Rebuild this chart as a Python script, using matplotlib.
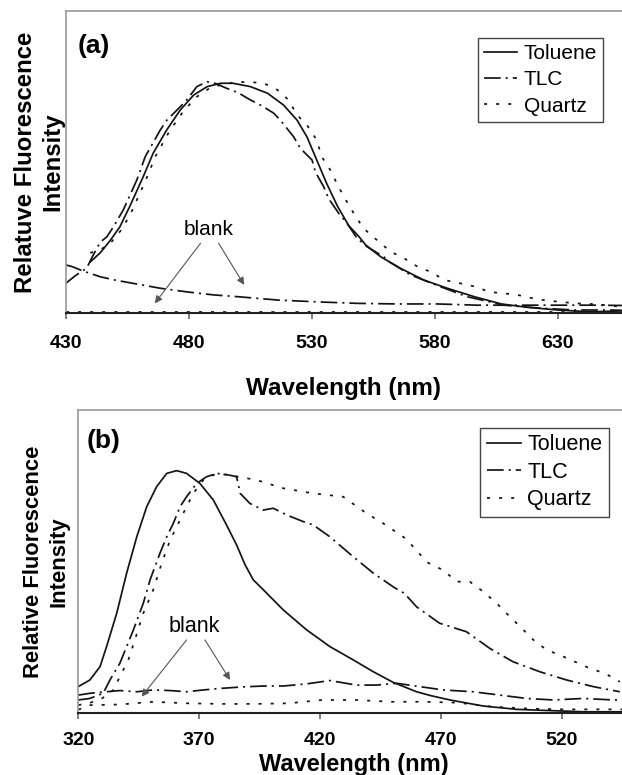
import matplotlib
matplotlib.use("Agg")
import matplotlib.pyplot as plt

plt.rcParams['font.family'] = ['Liberation Sans', 'DejaVu Sans']
plt.rcParams['lines.scale_dashes'] = False

# ---------------- Panel (a) data ----------------
a_tol_x = [440, 444, 448, 452, 456, 461.5, 465.5, 471, 476.5, 482, 487.5, 493, 498, 505, 512,
           518.5, 524, 528, 532, 536, 540.5, 545, 549, 552, 558, 566, 575.5, 585, 596, 607,
           617.5, 630, 643, 656]
a_tol_y = [0.17, 0.20, 0.24, 0.286, 0.353, 0.452, 0.529, 0.606, 0.672, 0.722, 0.750, 0.761,
           0.761, 0.750, 0.728, 0.689, 0.639, 0.584, 0.507, 0.430, 0.353, 0.29, 0.255, 0.225,
           0.187, 0.149, 0.110, 0.083, 0.055, 0.031, 0.020, 0.011, 0.005, 0.008]

a_tlc_x = [430, 434, 438.5, 441, 444, 446.7, 449.4, 453.4, 458.9, 462.3, 468.4, 471.1, 476.5,
           479.2, 483.3, 487.4, 491, 495.5, 500, 505, 510, 514.5, 517.2, 522.6, 525.3, 530.1,
           531.4, 534.8, 536.8, 540.9, 544.3, 548.4, 552.5, 559.2, 561.3, 570.1, 582.3, 593.1,
           608, 623, 636.6, 650, 656]
a_tlc_y = [0.099, 0.125, 0.149, 0.19, 0.235, 0.253, 0.286, 0.342, 0.441, 0.518, 0.606, 0.639,
           0.683, 0.706, 0.750, 0.766, 0.760, 0.744, 0.730, 0.706, 0.685, 0.662, 0.639, 0.584,
           0.546, 0.507, 0.468, 0.419, 0.380, 0.331, 0.298, 0.248, 0.220, 0.187, 0.171, 0.127,
           0.088, 0.055, 0.027, 0.017, 0.011, 0.011, 0.010]

a_qtz_x = [440, 444, 448, 453, 457, 462.5, 466.5, 472, 477.5, 483, 488.5, 494, 500, 505, 510.5,
           516, 520.5, 524, 528, 532, 534, 537.5, 540.5, 543.6, 547, 551, 556.5, 562, 567.5,
           573, 578, 584, 590.5, 596.5, 602, 608, 613.5, 619.5, 625.5, 631, 637, 643, 649.5,
           655.5]
a_qtz_y = [0.20, 0.21, 0.23, 0.28, 0.34, 0.44, 0.52, 0.60, 0.665, 0.715, 0.745, 0.758, 0.765,
           0.765, 0.761, 0.739, 0.706, 0.656, 0.623, 0.573, 0.518, 0.474, 0.424, 0.378, 0.331,
           0.281, 0.242, 0.204, 0.182, 0.154, 0.138, 0.110, 0.099, 0.088, 0.071, 0.066, 0.061,
           0.050, 0.042, 0.038, 0.033, 0.031, 0.027, 0.022]

a_blank_tlc_x = [430, 432.5, 437, 444, 450, 457.5, 468.4, 479.2, 490, 500, 516, 532, 548.5,
                 565, 581, 597, 613, 629, 645, 656]
a_blank_tlc_y = [0.16, 0.155, 0.14, 0.121, 0.110, 0.099, 0.083, 0.071, 0.061, 0.055, 0.044,
                 0.038, 0.033, 0.031, 0.031, 0.027, 0.027, 0.027, 0.027, 0.026]

a_blank_qtz_x = [430, 656]
a_blank_qtz_y = [0.004, 0.004]

a_ticks = [430, 480, 530, 580, 630]

# ---------------- Panel (b) data ----------------
b_tol_x = [320, 324.8, 329, 331.7, 335.9, 340, 344.2, 348.3, 352.4, 356.6, 360.7, 364.8, 370.3,
           375.9, 381.4, 385.5, 389, 392.4, 396.6, 404.8, 414.5, 424.1, 433.8, 442.1, 450.3,
           460, 466, 473.8, 487.6, 501.4, 515.2, 529, 545]
b_tol_y = [0.088, 0.110, 0.154, 0.220, 0.330, 0.462, 0.582, 0.681, 0.747, 0.791, 0.800, 0.791,
           0.758, 0.703, 0.620, 0.555, 0.49, 0.440, 0.407, 0.341, 0.275, 0.220, 0.176, 0.137,
           0.102, 0.071, 0.058, 0.044, 0.024, 0.013, 0.009, 0.005, 0.005]

b_tlc_x = [320, 324.8, 330.3, 333.1, 337.2, 340, 342.8, 346.9, 349.7, 353.8, 356.6, 359.3,
           362.1, 364.8, 369, 373.1, 377.3, 382, 385.5, 387, 391, 396.5, 400.7, 406.2, 413.1,
           417.2, 424.1, 433.8, 442.1, 450.3, 455, 460, 469.5, 480.6, 490.3, 499.9, 511, 522,
           533.1, 544.1]
b_tlc_y = [0.044, 0.049, 0.066, 0.110, 0.165, 0.220, 0.275, 0.363, 0.440, 0.528, 0.582, 0.626,
           0.681, 0.714, 0.758, 0.780, 0.791, 0.786, 0.780, 0.725, 0.692, 0.670, 0.676, 0.654,
           0.632, 0.621, 0.582, 0.516, 0.462, 0.417, 0.395, 0.351, 0.297, 0.269, 0.214, 0.170,
           0.137, 0.110, 0.088, 0.071]

b_qtz_x = [320, 325, 330, 334.5, 337.2, 340.7, 343.4, 346.9, 351, 354.5, 358, 360.7, 364.1,
           367.6, 371.7, 377.3, 384, 393.8, 404.8, 417.2, 429.6, 439.3, 446.2, 455.9, 460.3,
           465, 471, 476.6, 482, 487.6, 493.1, 497.9, 502.8, 508.3, 513.8, 519.3, 525.5, 531.7,
           537.9, 544.1]
b_qtz_y = [0.027, 0.035, 0.05, 0.077, 0.121, 0.176, 0.242, 0.330, 0.407, 0.495, 0.571, 0.615,
           0.670, 0.725, 0.769, 0.791, 0.783, 0.769, 0.742, 0.725, 0.714, 0.659, 0.626, 0.574,
           0.533, 0.495, 0.472, 0.434, 0.434, 0.401, 0.363, 0.324, 0.286, 0.242, 0.209, 0.192,
           0.170, 0.148, 0.132, 0.104]

b_blank_tlc_x = [320, 324.8, 330, 337.2, 344.2, 351, 358, 364.8, 371.7, 378.6, 388, 396.5,
                 404.8, 414.5, 424.1, 435.2, 443.4, 451.7, 461.3, 471, 483.4, 494.5, 505.5,
                 516.6, 529, 541.5, 545]
b_blank_tlc_y = [0.060, 0.066, 0.07, 0.075, 0.071, 0.077, 0.075, 0.071, 0.077, 0.082, 0.087,
                 0.090, 0.090, 0.097, 0.108, 0.093, 0.093, 0.099, 0.088, 0.077, 0.071, 0.060,
                 0.049, 0.044, 0.049, 0.044, 0.044]

b_blank_qtz_x = [320, 325, 337, 351, 365, 379, 393, 407, 421, 435, 449, 463, 477, 491, 505,
                 519, 533, 545]
b_blank_qtz_y = [0.012, 0.027, 0.029, 0.038, 0.033, 0.031, 0.031, 0.033, 0.044, 0.044, 0.038,
                 0.038, 0.035, 0.022, 0.016, 0.013, 0.013, 0.013]

b_ticks = [320, 370, 420, 470, 520]

series_names = ['Toluene', 'TLC', 'Quartz']

# ---------------- styles ----------------
LC = '#141414'
LW = 1.25
STY_TOL = '-'
STY_TLC = (0, (12.0, 3.6, 1.5, 3.6))
STY_QTZ = (0, (2.2, 6.5))

fig = plt.figure(figsize=(6.22, 7.75), dpi=100)
axa = fig.add_axes([0.1056, 0.5957, 0.8944, 0.3901])
axb = fig.add_axes([0.1259, 0.0796, 0.8741, 0.3914])


def style_axes(ax, ticks, xlim, ticksize, pad):
    ax.set_xlim(*xlim)
    ax.set_ylim(0, 1)
    ax.set_xticks(ticks)
    ax.set_yticks([])
    ax.spines['right'].set_visible(False)
    ax.spines['top'].set_color('#9a9a9a')
    ax.spines['top'].set_linewidth(1.2)
    ax.spines['left'].set_color('#9a9a9a')
    ax.spines['left'].set_linewidth(1.2)
    ax.spines['bottom'].set_color('#222222')
    ax.spines['bottom'].set_linewidth(1.5)
    ax.tick_params(axis='x', direction='out', length=4.5, width=1.2, color='#666666',
                   pad=pad, labelsize=ticksize)
    for lbl in ax.get_xticklabels():
        lbl.set_fontweight('bold')


# ---- panel (a)
la1, = axa.plot(a_tol_x, a_tol_y, color=LC, lw=LW, linestyle=STY_TOL)
la2, = axa.plot(a_tlc_x, a_tlc_y, color=LC, lw=LW, linestyle=STY_TLC)
la3, = axa.plot(a_qtz_x, a_qtz_y, color=LC, lw=LW, linestyle=STY_QTZ)
axa.plot(a_blank_tlc_x, a_blank_tlc_y, color=LC, lw=LW, linestyle=STY_TLC)
axa.plot(a_blank_qtz_x, a_blank_qtz_y, color=LC, lw=LW, linestyle=STY_QTZ)
style_axes(axa, a_ticks, (430, 656), 14, 11)

axa.set_xlabel('Wavelength (nm)', fontsize=17.5, fontweight='bold')
axa.xaxis.set_label_coords(0.5, -0.247)
axa.xaxis.label.set_va('center')
axa.set_ylabel('Relatuve Fluorescence\nIntensity', fontsize=17.3, fontweight='bold',
               linespacing=1.25)
axa.yaxis.set_label_coords(-0.048, 0.5)
axa.yaxis.label.set_va('center')

axa.text(0.051, 0.884, '(a)', transform=axa.transAxes, fontsize=19, fontweight='bold',
         ha='center', va='center')
axa.text(488.1, 0.276, 'blank', fontsize=15, ha='center', va='center')
arrow_kw = dict(arrowstyle='-|>', color='#555555', lw=0.8, mutation_scale=11,
                shrinkA=0, shrinkB=0)
axa.annotate('', xy=(466.2, 0.033), xytext=(484.8, 0.232), arrowprops=arrow_kw)
axa.annotate('', xy=(502.5, 0.094), xytext=(492.1, 0.232), arrowprops=arrow_kw)

lega = axa.legend([la1, la2, la3], series_names, loc='upper left',
                  bbox_to_anchor=(0.741, 0.911), borderaxespad=0, fontsize=15,
                  handlelength=1.6, handletextpad=0.3, labelspacing=0.35, borderpad=0.3,
                  fancybox=False, edgecolor='#444444', framealpha=1)
lega.get_frame().set_linewidth(1.0)

# ---- panel (b)
lb1, = axb.plot(b_tol_x, b_tol_y, color=LC, lw=LW, linestyle=STY_TOL)
lb2, = axb.plot(b_tlc_x, b_tlc_y, color=LC, lw=LW, linestyle=STY_TLC)
lb3, = axb.plot(b_qtz_x, b_qtz_y, color=LC, lw=LW, linestyle=STY_QTZ)
axb.plot(b_blank_tlc_x, b_blank_tlc_y, color=LC, lw=LW, linestyle=STY_TLC)
axb.plot(b_blank_qtz_x, b_blank_qtz_y, color=LC, lw=LW, linestyle=STY_QTZ)
style_axes(axb, b_ticks, (320, 545), 14, 9)

axb.set_xlabel('Wavelength (nm)', fontsize=17, fontweight='bold')
axb.xaxis.set_label_coords(0.507, -0.168)
axb.xaxis.label.set_va('center')
axb.set_ylabel('Relative Fluorescence\nIntensity', fontsize=15.8, fontweight='bold',
               linespacing=1.3)
axb.yaxis.set_label_coords(-0.0594, 0.5)
axb.yaxis.label.set_va('center')

axb.text(0.046, 0.898, '(b)', transform=axb.transAxes, fontsize=19, fontweight='bold',
         ha='center', va='center')
axb.text(367.9, 0.286, 'blank', fontsize=15.5, ha='center', va='center')
axb.annotate('', xy=(346.2, 0.055), xytext=(364.8, 0.242), arrowprops=arrow_kw)
axb.annotate('', xy=(382.8, 0.110), xytext=(372.4, 0.242), arrowprops=arrow_kw)

legb = axb.legend([lb1, lb2, lb3], series_names, loc='upper left',
                  bbox_to_anchor=(0.739, 0.941), borderaxespad=0, fontsize=15.5,
                  handlelength=1.6, handletextpad=0.3, labelspacing=0.3, borderpad=0.3,
                  fancybox=False, edgecolor='#444444', framealpha=1)
legb.get_frame().set_linewidth(1.0)

fig.savefig('out.png', dpi=100)
